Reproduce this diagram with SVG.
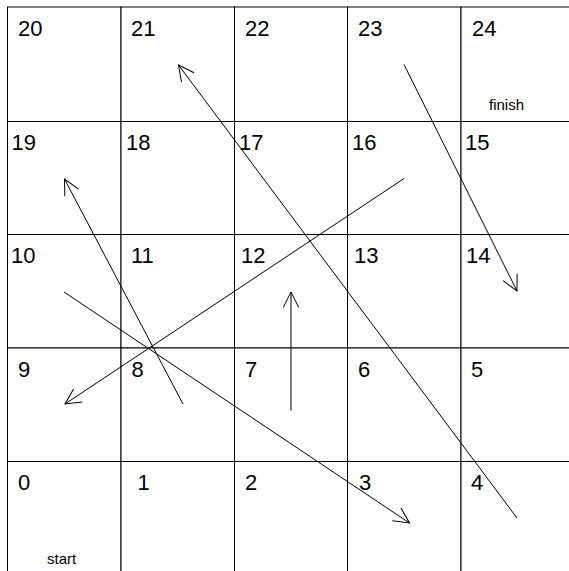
<svg xmlns="http://www.w3.org/2000/svg" width="569" height="571" viewBox="0 0 569 571">
<style>
.cell{fill:#fff;stroke:#000;stroke-width:1}
.n{font-family:"Liberation Sans",Arial,Helvetica,sans-serif;font-size:22px;fill:#000}
.s{font-family:"Liberation Sans",Arial,Helvetica,sans-serif;font-size:15px;fill:#000}
.c{fill:none;stroke:#000;stroke-width:1}
</style>
<defs>
<marker id="ah" markerUnits="userSpaceOnUse" orient="auto" refX="0" refY="0" viewBox="-20 -10 22 20" markerWidth="22" markerHeight="20" overflow="visible">
<path d="M-15.5,-7.8 L0,0 L-15.5,7.8" fill="none" stroke="#000" stroke-width="1"/>
</marker>
</defs>
<rect width="569" height="571" fill="#fff"/>
<g id="cells">
<g id="cell20"><rect class="cell" x="7.5" y="7" width="113.5" height="114.5"/><text class="n" x="18" y="36">20</text></g>
<g id="cell21"><rect class="cell" x="121" y="7" width="113.5" height="114.5"/><text class="n" x="131" y="36">21</text></g>
<g id="cell22"><rect class="cell" x="234.5" y="7" width="113" height="114.5"/><text class="n" x="245" y="36">22</text></g>
<g id="cell23"><rect class="cell" x="347.5" y="7" width="113.5" height="114.5"/><text class="n" x="358" y="36">23</text></g>
<g id="cell24"><rect class="cell" x="461" y="7" width="113.5" height="114.5"/><text class="n" x="472" y="36">24</text><text class="s" x="489" y="110">finish</text></g>

<g id="cell19"><rect class="cell" x="7.5" y="121.5" width="113.5" height="113"/><text class="n" x="11.5" y="150">19</text></g>
<g id="cell18"><rect class="cell" x="121" y="121.5" width="113.5" height="113"/><text class="n" x="126" y="150">18</text></g>
<g id="cell17"><rect class="cell" x="234.5" y="121.5" width="113" height="113"/><text class="n" x="239" y="150">17</text></g>
<g id="cell16"><rect class="cell" x="347.5" y="121.5" width="113.5" height="113"/><text class="n" x="352" y="150">16</text></g>
<g id="cell15"><rect class="cell" x="461" y="121.5" width="113.5" height="113"/><text class="n" x="465" y="150">15</text></g>

<g id="cell10"><rect class="cell" x="7.5" y="234.5" width="113.5" height="113.5"/><text class="n" x="11" y="263">10</text></g>
<g id="cell11"><rect class="cell" x="121" y="234.5" width="113.5" height="113.5"/><text class="n" x="131" y="263">11</text></g>
<g id="cell12"><rect class="cell" x="234.5" y="234.5" width="113" height="113.5"/><text class="n" x="241" y="263">12</text></g>
<g id="cell13"><rect class="cell" x="347.5" y="234.5" width="113.5" height="113.5"/><text class="n" x="354" y="263">13</text></g>
<g id="cell14"><rect class="cell" x="461" y="234.5" width="113.5" height="113.5"/><text class="n" x="466" y="263">14</text></g>

<g id="cell9"><rect class="cell" x="7.5" y="348" width="113.5" height="113.5"/><text class="n" x="18" y="377">9</text></g>
<g id="cell8"><rect class="cell" x="121" y="348" width="113.5" height="113.5"/><text class="n" x="131.5" y="377">8</text></g>
<g id="cell7"><rect class="cell" x="234.5" y="348" width="113" height="113.5"/><text class="n" x="245" y="377">7</text></g>
<g id="cell6"><rect class="cell" x="347.5" y="348" width="113.5" height="113.5"/><text class="n" x="358" y="377">6</text></g>
<g id="cell5"><rect class="cell" x="461" y="348" width="113.5" height="113.5"/><text class="n" x="471" y="377">5</text></g>

<g id="cell0"><rect class="cell" x="7.5" y="461.5" width="113.5" height="113.5"/><text class="n" x="18" y="490">0</text><text class="s" x="47" y="564">start</text></g>
<g id="cell1"><rect class="cell" x="121" y="461.5" width="113.5" height="113.5"/><text class="n" x="137.5" y="490">1</text></g>
<g id="cell2"><rect class="cell" x="234.5" y="461.5" width="113" height="113.5"/><text class="n" x="245" y="490">2</text></g>
<g id="cell3"><rect class="cell" x="347.5" y="461.5" width="113.5" height="113.5"/><text class="n" x="359" y="490">3</text></g>
<g id="cell4"><rect class="cell" x="461" y="461.5" width="113.5" height="113.5"/><text class="n" x="471" y="490">4</text></g>
</g>
<g id="connectors">
<line class="c" x1="517" y1="518" x2="178.5" y2="65" marker-end="url(#ah)"/>
<line class="c" x1="404" y1="64.5" x2="517" y2="291" marker-end="url(#ah)"/>
<line class="c" x1="404" y1="178.5" x2="65" y2="404" marker-end="url(#ah)"/>
<line class="c" x1="183" y1="404" x2="64.5" y2="179" marker-end="url(#ah)"/>
<line class="c" x1="64" y1="292" x2="409.5" y2="523" marker-end="url(#ah)"/>
<line class="c" x1="291" y1="410.5" x2="291" y2="292" marker-end="url(#ah)"/>
</g>
</svg>
